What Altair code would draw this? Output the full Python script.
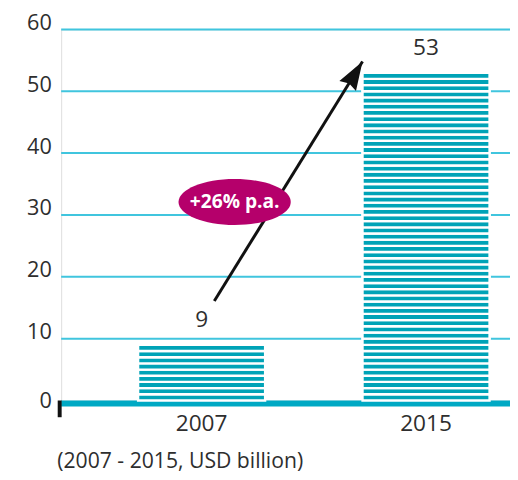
import altair as alt
import pandas as pd

# ---- data ----
years = ["2007", "2015"]
values = [9, 53]
value_labels = ["9", "53"]
y_ticks = [10, 20, 30, 40, 50, 60]
y_label_ticks = [0, 10, 20, 30, 40, 50, 60]
subtitle = "(2007 - 2015, USD billion)"
growth_label = "+26% p.a."
arrow_from = ["2007"]
arrow_to = ["2015"]
arrow_y0 = [16.1]
arrow_y1 = [54.8]
badge_year = ["2007"]
badge_y = [32.1]

FONT = "Open Sans"
TEAL = "#00a3b7"
GRID = "#40c5de"
BASE = "#00a9c4"
MAGENTA = "#b5006b"
TEXT = "#2e2e2e"

W, H = 456, 377

bars = pd.DataFrame({"year": years, "value": values, "label": value_labels})
stripes = pd.DataFrame(
    [{"year": y, "lo": i, "hi": i + 1} for y, v in zip(years, values) for i in range(v)]
)
arrow = pd.DataFrame({"x0": arrow_from, "x1": arrow_to, "y0": arrow_y0, "y1": arrow_y1})
badge = pd.DataFrame({"year": badge_year, "y": badge_y, "text": [growth_label]})

xscale = alt.Scale(domain=years, paddingInner=0.434, paddingOuter=0.217, align=0.79)
yscale = alt.Scale(domain=[0, 60], nice=False)

x_axis = alt.Axis(
    labelFont=FONT, labelFontSize=23, labelColor=TEXT, labelAngle=0,
    ticks=False, domain=False, grid=False, labelPadding=12, title=None,
)
y_axis = alt.Axis(
    values=y_label_ticks, labelFont=FONT, labelFontSize=22, labelColor=TEXT,
    ticks=False, domain=False, grid=False, labelPadding=10,
    labelBaseline={"condition": {"test": "datum.value === 0", "value": "middle"},
                   "value": "alphabetic"},
    title=None,
)

grid = alt.Chart(pd.DataFrame({"t": y_ticks})).mark_rule(
    color=GRID, strokeWidth=2
).encode(y=alt.Y("t:Q", scale=yscale, axis=y_axis))

baseline = alt.Chart(pd.DataFrame({"z": [0]})).mark_rule(
    color=BASE, strokeWidth=6, yOffset=3
).encode(y=alt.Y("z:Q", scale=yscale))

stripe_layer = alt.Chart(stripes).mark_bar(
    color=TEAL, stroke="white", strokeWidth=2.4
).encode(
    x=alt.X("year:N", scale=xscale, axis=x_axis),
    y=alt.Y("lo:Q", scale=yscale),
    y2="hi:Q",
)

corner_tick = alt.Chart(pd.DataFrame({"z": [0]})).mark_rule(
    color="#111111", strokeWidth=4
).encode(x=alt.value(-1.5), y=alt.value(H), y2=alt.value(H + 17))

labels = alt.Chart(bars).mark_text(
    font=FONT, fontSize=23, color=TEXT, baseline="alphabetic", dy=-18
).encode(
    x=alt.X("year:N", scale=xscale),
    y=alt.Y("value:Q", scale=yscale),
    text="label:N",
)

arrow_line = alt.Chart(arrow).mark_rule(color="#111111", strokeWidth=3).encode(
    x=alt.X("x0:N", scale=xscale, bandPosition=0.6),
    x2=alt.X2("x1", bandPosition=0.0),
    y=alt.Y("y0:Q", scale=yscale),
    y2="y1:Q",
)

arrow_head = alt.Chart(arrow).mark_point(
    shape="M0,0L0.68,2L0,1.8L-0.68,2Z", filled=True, color="#111111",
    size=841, angle=31.3, opacity=1, strokeWidth=0,
).encode(
    x=alt.X("x1:N", scale=xscale, bandPosition=0.0),
    y=alt.Y("y1:Q", scale=yscale),
)

ellipse = alt.Chart(badge).mark_point(
    shape="M-1,0A1,0.41 0 1,0 1,0A1,0.41 0 1,0 -1,0Z", filled=True,
    color=MAGENTA, size=12996, opacity=1, strokeWidth=0,
).encode(
    x=alt.X("year:N", scale=xscale, bandPosition=0.76),
    y=alt.Y("y:Q", scale=yscale),
)

badge_text = alt.Chart(badge).mark_text(
    font=FONT, fontSize=19.5, fontWeight="bold", color="white", baseline="middle",
).encode(
    x=alt.X("year:N", scale=xscale, bandPosition=0.76),
    y=alt.Y("y:Q", scale=yscale),
    text="text:N",
)

chart = alt.layer(
    grid, baseline, stripe_layer, corner_tick, labels, arrow_line, arrow_head,
    ellipse, badge_text,
).properties(
    width=W, height=H,
    title=alt.TitleParams(
        subtitle, orient="bottom", anchor="start", frame="group", font=FONT,
        fontSize=21.5, fontWeight="normal", color=TEXT, dx=-4, offset=17,
    ),
    autosize=alt.AutoSizeParams(type="none"),
    padding={"left": 54, "top": 18, "right": 0, "bottom": 75},
).configure_view(stroke=None).configure(background="white")

chart.save("out.html", embed_options={"renderer": "svg", "actions": False})
